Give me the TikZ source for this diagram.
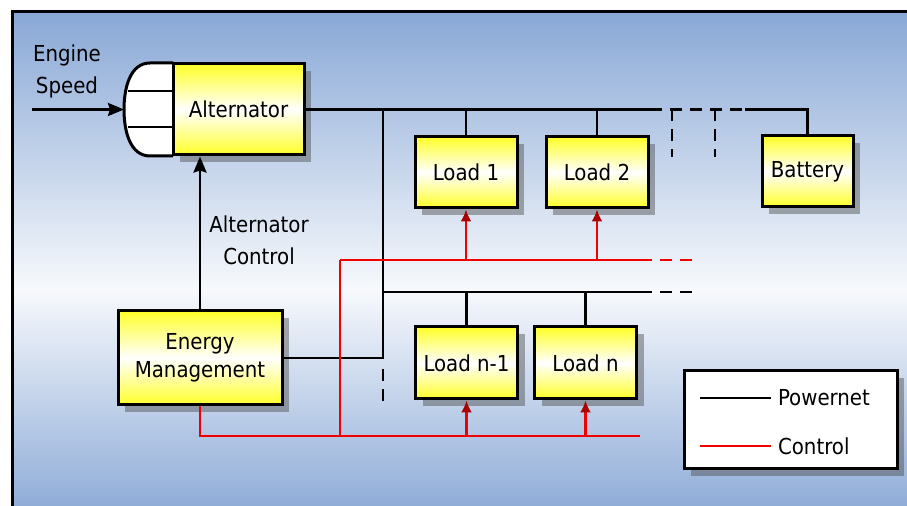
\documentclass[tikz,border=0pt]{standalone}
\usepackage{fontspec}
\setmainfont{DejaVu Sans Condensed}
\usepackage{tikz}
\usetikzlibrary{positioning,shadows,arrows.meta}
\definecolor{fondbleu}{RGB}{137,168,214}
\definecolor{fondclair}{RGB}{247,249,252}
\definecolor{jaune}{RGB}{255,255,40}
\definecolor{rougevif}{RGB}{240,0,0}
\definecolor{rougefonce}{RGB}{170,0,0}

\begin{document}
\begin{tikzpicture}[
  x=0.5pt, y=-0.5pt,
  bloc/.style    = {draw, line width=1.5pt, inner sep=2pt, align=center,
                    top color=jaune, bottom color=jaune, middle color=white,
                    drop shadow={shadow xshift=3.5pt, shadow yshift=-3.5pt,
                                 opacity=.45, fill=black!70},
                    font=\fontsize{11}{14}\selectfont},
  charge/.style  = {bloc, minimum width=51pt, minimum height=35.5pt},
  texte/.style   = {align=center, font=\fontsize{11}{16}\selectfont},
  reseau/.style  = {line width=1.2pt},
  commande/.style= {line width=1.2pt, rougevif},
  pointille/.style = {dash pattern=on 6pt off 4pt},
  fleche/.style  = {-{Stealth[length=8pt, width=6.5pt, inset=1pt]}, line width=1.2pt},
  fleche rouge/.style = {-{Latex[length=6pt, width=5.5pt, color=rougefonce]}}
]
\useasboundingbox (0,0) rectangle (907,506);
\clip (0,0) rectangle (907,506);
% fond
\shade[top color=fondbleu, bottom color=fondclair] (12,12) rectangle (920,290);
\shade[top color=fondclair, bottom color=fondbleu] (12,290) rectangle (920,520);
\draw[line width=1.5pt] (12,520) -- (12,12) -- (920,12);

% alternateur et capot
\draw[line width=1.5pt, fill=white] (173,63) -- (150,63)
  .. controls (130,63) and (124,88) .. (124,109.5)
  .. controls (124,131) and (130,156) .. (150,156) -- (173,156);
\draw[line width=1.2pt] (128,91) -- (173,91);
\draw[line width=1.2pt] (128,127) -- (173,127);
\node[bloc, minimum width=65.5pt, minimum height=45.5pt] (alt) at (238.5,109.5) {Alternator};
\coordinate (capot) at (124,109.5);
\coordinate (depart) at (32,109.5);
\node[texte] (regime) at (67,71) {Engine\\Speed};
\draw[fleche] (depart) -- (capot);

% blocs
\node[bloc, minimum width=82pt, minimum height=47pt] (gestion) at (200,358) {Energy\\Management};
\node[charge] (c1) at (466,172.5) {Load 1};
\node[charge, right=13pt of c1] (c2) {Load 2};
\node[charge, minimum width=45.5pt] (batt) at (807.5,171.5) {Battery};
\node[charge, minimum height=36pt] (cn1) at (466.5,363) {Load n-1};
\node[charge, minimum height=36pt, right=7pt of cn1] (cn) {Load n};

\draw[fleche] (gestion.north) -- (gestion.north |- alt.south);
\node[texte] (cmdalt) at (259,240) {Alternator\\Control};

% reseau de puissance
\coordinate (b1) at (650,109.5);
\coordinate (b2) at (745,109.5);
\coordinate (tronc) at (383,109.5);
\coordinate (b3) at (383,292);
\coordinate (b4) at (640,292);
\draw[reseau] (alt.east) -- (b1);
\draw[reseau, pointille] (b1) -- (b2);
\draw[reseau] (b2) -| (batt.north);
\draw[reseau] (c1.north) -- (c1.north |- tronc);
\draw[reseau] (c2.north) -- (c2.north |- tronc);
\draw[reseau, pointille] (672,109.5) -- (672,157);
\draw[reseau, pointille] (715,109.5) -- (715,157);
\draw[reseau] (tronc) -- (tronc |- gestion.east) -- (gestion.east);
\draw[reseau, pointille] (383,369) -- (383,401);
\draw[reseau] (b3) -- (b4);
\draw[reseau, pointille] (b4) -- (697,292);
\draw[reseau] (cn1.north) -- (cn1.north |- b3);
\draw[reseau] (cn.north) -- (cn.north |- b3);

% commande
\coordinate (r1) at (340,260);
\coordinate (r2) at (640,260);
\coordinate (r3) at (340,436);
\coordinate (r4) at (640,436);
\draw[commande] (r1) -- (r2);
\draw[commande, pointille] (r2) -- (697,260);
\draw[commande] (r1) -- (r3);
\draw[commande] (gestion.south) -- (gestion.south |- r3) -- (r4);
\draw[commande, fleche rouge] (c1.south |- r1) -- (c1.south);
\draw[commande, fleche rouge] (c2.south |- r1) -- (c2.south);
\draw[commande, fleche rouge] (cn1.south |- r3) -- (cn1.south);
\draw[commande, fleche rouge] (cn.south |- r3) -- (cn.south);

% legende
\node[draw, line width=1.5pt, fill=white, minimum width=106.5pt, minimum height=49pt,
      drop shadow={shadow xshift=3.5pt, shadow yshift=-3.5pt, opacity=.45, fill=black!70}]
      (leg) at (790.5,420) {};
\node[texte, anchor=west] (legp) at (771,398) {Powernet};
\node[texte, anchor=west] (legc) at (771,446) {Control};
\draw[reseau] (700,398) -- (legp.west);
\draw[commande] (700,446) -- (legc.west);
\end{tikzpicture}
\end{document}
